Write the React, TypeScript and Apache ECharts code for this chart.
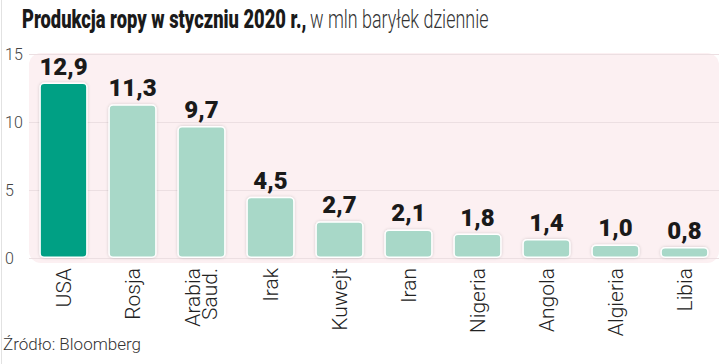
import React, { useEffect, useRef } from "react";
import * as echarts from "echarts";

const categories = ["USA", "Rosja", "Arabia\nSaud.", "Irak", "Kuwejt", "Iran", "Nigeria", "Angola", "Algieria", "Libia"];
const values = [12.9, 11.3, 9.7, 4.5, 2.7, 2.1, 1.8, 1.4, 1.0, 0.8];
const yTicks = [0, 5, 10, 15];
const titleBold = "Produkcja ropy w styczniu 2020 r.,";
const titleLight = "w mln baryłek dziennie";
const source = "Źródło: Bloomberg";

export default function App() {
  const ref = useRef<HTMLDivElement>(null);
  useEffect(() => {
    if (!ref.current) return;
    const chart = echarts.init(ref.current, null, { renderer: "svg" });
    chart.setOption({
      animation: false,
      backgroundColor: "#ffffff",
      graphic: [
        { type: "rect", left: 1, top: 0, shape: { width: 1, height: 364 }, style: { fill: "#e2e2e2" }, z: -10 },
        {
          type: "rect",
          x: 29,
          y: 53,
          shape: { width: 690, height: 210, r: 12 },
          style: { fill: "#fcf0f2" },
          z: -5,
        },
        {
          type: "text",
          x: 22,
          y: 6,
          scaleX: 0.705,
          style: { text: titleBold, font: "900 26px Roboto", fill: "#1a1a1a" },
        },
        {
          type: "text",
          x: 310,
          y: 6,
          scaleX: 0.69,
          style: { text: titleLight, font: "300 26px Roboto", fill: "#333333" },
        },
        {
          type: "text",
          x: 3,
          y: 335,
          style: { text: source, font: "300 17px Roboto", fill: "#333333" },
        },
      ],
      grid: { left: 29, right: 1, top: 54, bottom: 106, containLabel: false },
      xAxis: {
        type: "category",
        data: categories,
        axisLine: { show: false },
        axisTick: { show: false },
        axisLabel: {
          rotate: 90,
          margin: 10,
          fontFamily: "Roboto",
          fontWeight: 300,
          fontSize: 21,
          lineHeight: 17,
          color: "#222222",
          interval: 0,
        },
      },
      yAxis: {
        type: "value",
        min: 0,
        max: 15,
        interval: 5,
        axisLine: { show: false },
        axisTick: { show: false },
        axisLabel: {
          align: "left",
          margin: 24,
          fontFamily: "Roboto",
          fontWeight: 300,
          fontSize: 16,
          color: "#444444",
          formatter: (v: number) => (yTicks.includes(v) ? String(v) : ""),
        },
        splitLine: { lineStyle: { color: "#ecdfe2", width: 1 } },
      },
      series: [
        {
          type: "bar",
          data: values.map((v, i) => ({
            value: v,
            itemStyle: { color: i === 0 ? "#00a084" : "#a8d8c8" },
          })),
          barWidth: "70%",
          itemStyle: {
            borderColor: "#ffffff",
            borderWidth: 1.5,
            borderRadius: 4,
            shadowBlur: 3,
            shadowColor: "rgba(0,0,0,0.18)",
          },
          label: {
            show: true,
            position: "top",
            distance: 4,
            fontFamily: "Roboto",
            fontWeight: 900,
            fontSize: 24,
            color: "#1a1a1a",
            formatter: (p: any) => String(p.value.toFixed(1)).replace(".", ","),
          },
        },
      ],
    });
    return () => chart.dispose();
  }, []);
  return <div ref={ref} style={{ position: "fixed", left: 0, top: 0, width: 720, height: 364 }} />;
}
